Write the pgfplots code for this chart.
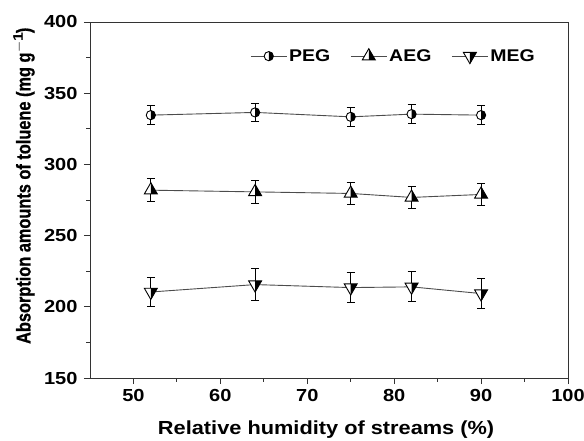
\documentclass[border=0pt]{standalone}
\usepackage{pgfplots}
\pgfplotsset{compat=1.18}
\usepackage{fontspec}
\setmainfont[FakeStretch=1.15]{Liberation Sans}
\newfontfamily\ylabfont[FakeStretch=0.82, BoldFeatures={FakeBold=0.8}]{Liberation Sans}

\pgfdeclareplotmark{hcirc}{%
  \pgfsetfillcolor{white}%
  \pgfpathcircle{\pgfpointorigin}{\pgfplotmarksize}\pgfusepathqfill
  \pgfsetfillcolor{black}%
  \pgfpathmoveto{\pgfqpoint{0pt}{\pgfplotmarksize}}%
  \pgfpatharc{90}{-90}{\pgfplotmarksize}%
  \pgfpathclose\pgfusepathqfill
  \pgfpathcircle{\pgfpointorigin}{\pgfplotmarksize}\pgfusepathqstroke}
\pgfdeclareplotmark{htri}{%
  \pgfsetfillcolor{white}%
  \pgfpathmoveto{\pgfqpoint{0pt}{\pgfplotmarksize}}%
  \pgfpathlineto{\pgfqpoint{0.866\pgfplotmarksize}{-0.5\pgfplotmarksize}}%
  \pgfpathlineto{\pgfqpoint{-0.866\pgfplotmarksize}{-0.5\pgfplotmarksize}}%
  \pgfpathclose\pgfusepathqfill
  \pgfsetfillcolor{black}%
  \pgfpathmoveto{\pgfqpoint{0pt}{\pgfplotmarksize}}%
  \pgfpathlineto{\pgfqpoint{0.866\pgfplotmarksize}{-0.5\pgfplotmarksize}}%
  \pgfpathlineto{\pgfqpoint{0pt}{-0.5\pgfplotmarksize}}%
  \pgfpathclose\pgfusepathqfill
  \pgfpathmoveto{\pgfqpoint{0pt}{\pgfplotmarksize}}%
  \pgfpathlineto{\pgfqpoint{0.866\pgfplotmarksize}{-0.5\pgfplotmarksize}}%
  \pgfpathlineto{\pgfqpoint{-0.866\pgfplotmarksize}{-0.5\pgfplotmarksize}}%
  \pgfpathclose\pgfusepathqstroke}
\pgfdeclareplotmark{hitri}{%
  \pgfsetfillcolor{white}%
  \pgfpathmoveto{\pgfqpoint{0pt}{-\pgfplotmarksize}}%
  \pgfpathlineto{\pgfqpoint{0.866\pgfplotmarksize}{0.5\pgfplotmarksize}}%
  \pgfpathlineto{\pgfqpoint{-0.866\pgfplotmarksize}{0.5\pgfplotmarksize}}%
  \pgfpathclose\pgfusepathqfill
  \pgfsetfillcolor{black}%
  \pgfpathmoveto{\pgfqpoint{0pt}{-\pgfplotmarksize}}%
  \pgfpathlineto{\pgfqpoint{0.866\pgfplotmarksize}{0.5\pgfplotmarksize}}%
  \pgfpathlineto{\pgfqpoint{0pt}{0.5\pgfplotmarksize}}%
  \pgfpathclose\pgfusepathqfill
  \pgfpathmoveto{\pgfqpoint{0pt}{-\pgfplotmarksize}}%
  \pgfpathlineto{\pgfqpoint{0.866\pgfplotmarksize}{0.5\pgfplotmarksize}}%
  \pgfpathlineto{\pgfqpoint{-0.866\pgfplotmarksize}{0.5\pgfplotmarksize}}%
  \pgfpathclose\pgfusepathqstroke}

\begin{document}
\begin{tikzpicture}
\begin{axis}[
  scale only axis,
  at={(0,0)}, anchor=south west,
  width=478bp, height=356bp,
  xmin=45, xmax=100, ymin=150, ymax=400,
  xtick={50,60,...,100}, ytick={150,200,...,400},
  minor x tick num=1, minor y tick num=1,
  tick align=outside, xtick pos=bottom, ytick pos=left,
  major tick length=6bp, minor tick length=3.5bp,
  every tick/.style={black!80, line width=0.9bp},
  axis line style={black!80, line width=0.9bp},
  /pgf/number format/assume math mode=true,
  tick label style={font=\fontsize{17.5}{19}\selectfont\bfseries},
  xticklabel style={yshift=-2bp},
  yticklabel style={xshift=-3bp},
  xlabel style={font=\fontsize{19}{21}\selectfont\bfseries},
  ylabel style={font=\ylabfont\fontsize{20}{22}\selectfont\bfseries},
  xlabel={Relative humidity of streams (\%)},
  ylabel={Absorption amounts of toluene (mg g$^{\mathbf{-1}}$)},
  xlabel style={at={(axis description cs:0.494,-0.145)}, anchor=center},
  ylabel style={at={(axis description cs:-0.138,0.54)}, anchor=center},
  legend columns=3,
  legend style={draw=none, fill=none, at={(0.335,0.904)}, anchor=west,
    inner xsep=0pt, inner ysep=0pt,
    font=\fontsize{17}{19}\selectfont\bfseries,
    /tikz/every even column/.append style={column sep=18bp}},
  legend image code/.code={%
    \draw[mark repeat=2,mark phase=2] plot coordinates {(0bp,0bp)(18bp,0bp)(36bp,0bp)};},
  error bars/y dir=both, error bars/y explicit,
  error bars/error mark options={rotate=90, mark size=4bp, black, line width=0.9bp},
  error bars/error bar style={black, line width=0.9bp},
]
\addplot[black!70, line width=0.9bp, mark=hcirc, mark size=4.6bp,
  mark options={black, solid, line width=0.9bp}] coordinates {
  (52,334.6) +- (0,6.5)
  (64,336.5) +- (0,6.5)
  (75,333.4) +- (0,6.5)
  (82,335.3) +- (0,6.5)
  (90,334.6) +- (0,6.5)
};
\addlegendentry{PEG}
\addplot[black!70, line width=0.9bp, mark=htri, mark size=7.5bp,
  mark options={black, solid, line width=0.9bp}] coordinates {
  (52,281.9) +- (0,8.2)
  (64,280.7) +- (0,8.0)
  (75,279.6) +- (0,8.0)
  (82,276.8) +- (0,8.0)
  (90,278.9) +- (0,8.0)
};
\addlegendentry{AEG}
\addplot[black!70, line width=0.9bp, mark=hitri, mark size=7.5bp,
  mark options={black, solid, line width=0.9bp}] coordinates {
  (52,210.4) +- (0,10.3)
  (64,215.6) +- (0,11)
  (75,213.5) +- (0,10.5)
  (82,214.0) +- (0,10.5)
  (90,209.3) +- (0,10.3)
};
\addlegendentry{MEG}
\end{axis}
\pgfresetboundingbox
\path[use as bounding box] (-90bp,-63bp) rectangle (494bp,378bp);
\end{tikzpicture}
\end{document}
